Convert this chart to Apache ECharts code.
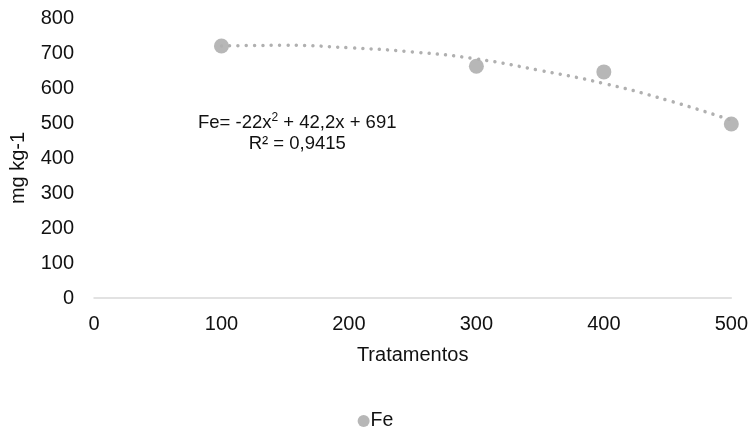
<!DOCTYPE html>
<html>
<head>
<meta charset="utf-8">
<script src="https://cdn.jsdelivr.net/npm/echarts@6/dist/echarts.min.js"></script>
<style>html,body{margin:0;padding:0;background:#fff}#c{width:751px;height:430px}</style>
</head>
<body>
<div id="c"></div>
<script>
var tratamentos = [100, 300, 400, 500];
var feValues = [720, 662, 646, 497];
// trendline
var trendX = [100, 150, 200, 250, 300, 350, 400, 450, 500];
var trendY = [720, 722, 715, 703, 683, 650, 613, 565, 508];
var xTicks = [0, 100, 200, 300, 400, 500];
var yTicks = [0, 100, 200, 300, 400, 500, 600, 700, 800];

var font = 'Liberation Sans, Arial, sans-serif';
var txt = '#111';
var chart = echarts.init(document.getElementById('c'), null, {renderer: 'canvas'});
chart.setOption({
  animation: false,
  grid: {left: 94, right: 15, top: 18, bottom: 132, containLabel: false},
  legend: {
    data: [{name: 'Fe', icon: 'circle'}],
    top: 406, left: 'center',
    itemWidth: 12, itemHeight: 12, itemGap: 4,
    textStyle: {fontFamily: font, fontSize: 19.5, color: txt, padding: [0, 0, 0, -4]}
  },
  xAxis: {
    type: 'value', min: xTicks[0], max: xTicks[xTicks.length - 1], interval: 100,
    name: 'Tratamentos', nameLocation: 'middle', nameGap: 47,
    nameTextStyle: {fontFamily: font, fontSize: 20, color: txt},
    axisLine: {show: true, lineStyle: {color: '#d9d9d9', width: 1.5}},
    axisTick: {show: false},
    splitLine: {show: false},
    axisLabel: {fontFamily: font, fontSize: 20, color: txt, margin: 16}
  },
  yAxis: {
    type: 'value', min: yTicks[0], max: yTicks[yTicks.length - 1], interval: 100,
    name: 'mg kg-1', nameLocation: 'middle', nameGap: 66, nameRotate: 90,
    nameTextStyle: {fontFamily: font, fontSize: 20, color: txt, padding: [0, 0, 0, -20]},
    axisLine: {show: false},
    axisTick: {show: false},
    splitLine: {show: false},
    axisLabel: {fontFamily: font, fontSize: 20, color: txt, margin: 20}
  },
  graphic: [{
    type: 'text', left: 198, top: 112,
    style: {
      text: '{a|Fe= -22x}{s|2}{a| + 42,2x + 691}\n{a|R² = 0,9415}',
      align: 'center',
      rich: {
        a: {fontFamily: font, fontSize: 18.5, fill: txt, lineHeight: 21, align: 'center'},
        s: {fontFamily: font, fontSize: 12, fill: txt, lineHeight: 21, verticalAlign: 'top', padding: [0, 0, 8, 0]}
      }
    }
  }],
  series: [
    {
      name: 'Fe', type: 'scatter', symbol: 'circle', symbolSize: 15,
      itemStyle: {color: '#a5a5a5'},
      data: tratamentos.map(function (x, i) { return [x, feValues[i]]; }),
      z: 2
    },
    {
      name: 'trend', type: 'line', smooth: true, showSymbol: false, symbol: 'none',
      lineStyle: {color: '#b0b0b0', width: 3.5, type: [0.01, 8.3], cap: 'round'},
      data: trendX.map(function (x, i) { return [x, trendY[i]]; }),
      z: 3
    }
  ]
});
</script>
</body>
</html>
